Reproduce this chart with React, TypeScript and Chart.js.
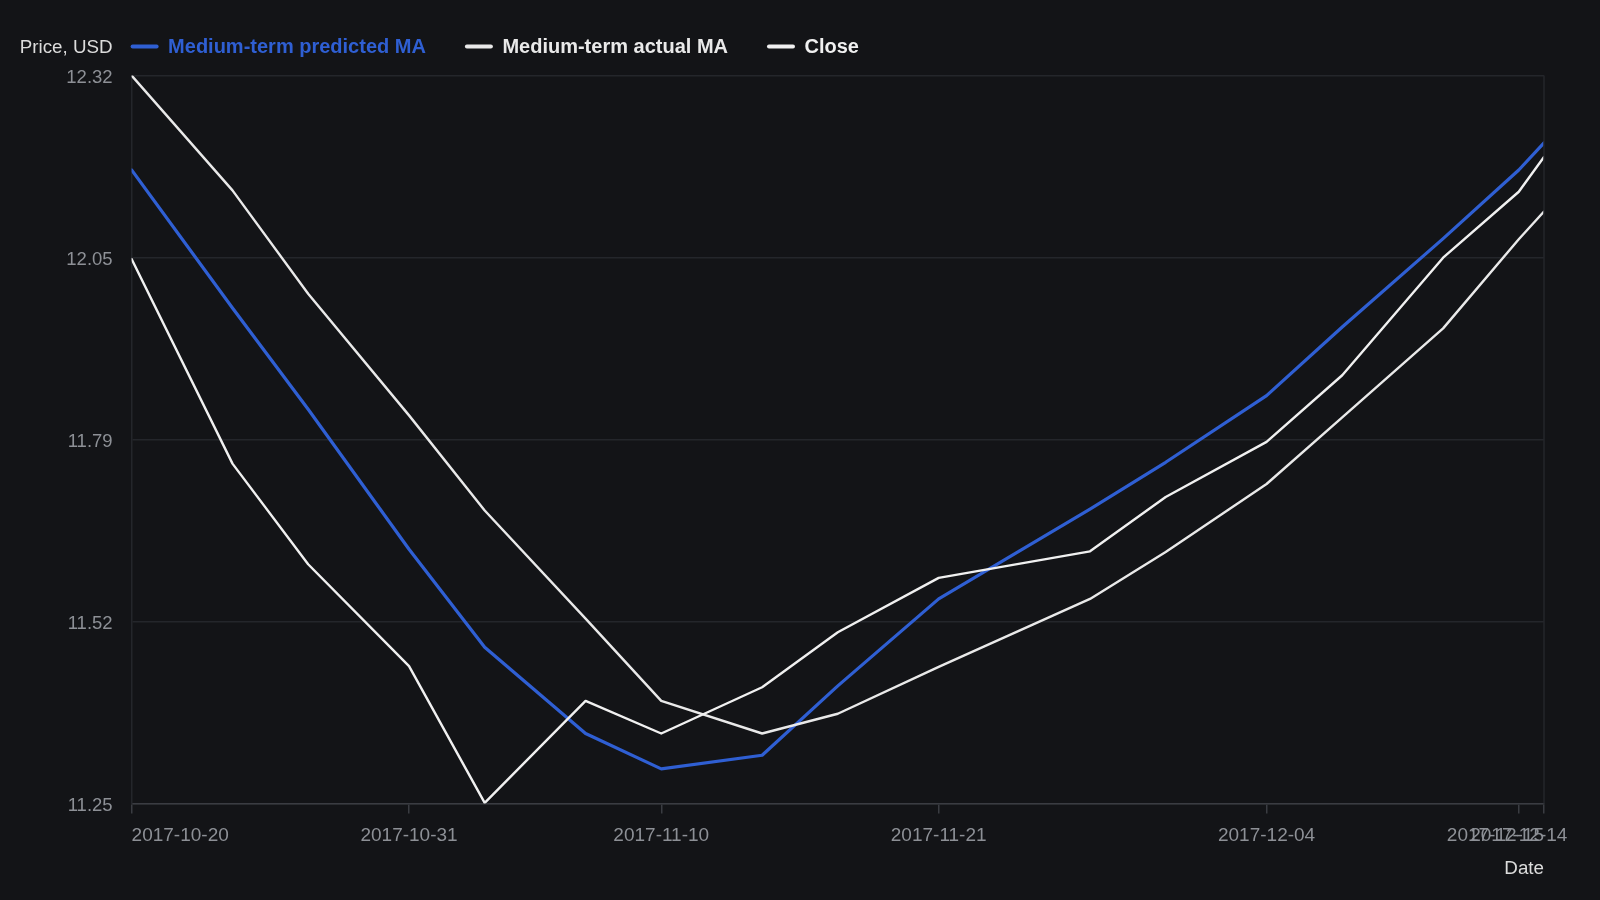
import React, { useEffect, useRef } from "react";
import { Chart, registerables } from "chart.js";

Chart.register(...registerables);

// ---- data ----
const dates = [
  "2017-10-20", "2017-10-24", "2017-10-27", "2017-10-31", "2017-11-03",
  "2017-11-07", "2017-11-10", "2017-11-14", "2017-11-17", "2017-11-21",
  "2017-11-27", "2017-11-30", "2017-12-04", "2017-12-07", "2017-12-11",
  "2017-12-14", "2017-12-15",
];
const predictedMA = [
  12.183, 11.98, 11.831, 11.625, 11.481, 11.354, 11.302, 11.322, 11.424,
  11.552, 11.684, 11.753, 11.851, 11.952, 12.082, 12.183, 12.223,
];
const actualMA = [
  12.322, 12.153, 12.001, 11.822, 11.682, 11.523, 11.402, 11.354, 11.383,
  11.452, 11.552, 11.621, 11.721, 11.819, 11.95, 12.081, 12.122,
];
const closePrice = [
  12.052, 11.751, 11.603, 11.453, 11.252, 11.402, 11.354, 11.422, 11.503,
  11.583, 11.622, 11.702, 11.783, 11.881, 12.054, 12.151, 12.202,
];
const xTickDates = [
  "2017-10-20", "2017-10-31", "2017-11-10", "2017-11-21",
  "2017-12-04", "2017-12-14", "2017-12-15",
];
const yMin = 11.251;
const yMax = 12.322;
const yTickCount = 5;

const seriesLabels = ["Medium-term predicted MA", "Medium-term actual MA", "Close"];
const yTitle = "Price, USD";
const xTitle = "Date";

// ---- styles ----
const BG = "#131417";
const GRID = "#24262b";
const AXIS = "#3a3c42";
const TICK_COLOR = "#8d9096";
const TITLE_COLOR = "#dcdcdc";
const BLUE = "#2f5fd3";
const WHITE1 = "#e9e9e9";
const WHITE2 = "#f0f0f0";
const FONT = '"Liberation Sans", Arial, Helvetica, sans-serif';

const DAY = 86400000;
const dayNum = (s: string) => {
  const [y, m, d] = s.split("-").map(Number);
  return Date.UTC(y, m - 1, d) / DAY;
};
const fmtDay = (v: number) => {
  const dt = new Date(Math.round(v) * DAY);
  const mm = String(dt.getUTCMonth() + 1).padStart(2, "0");
  const dd = String(dt.getUTCDate()).padStart(2, "0");
  return `${dt.getUTCFullYear()}-${mm}-${dd}`;
};

const decorPlugin = {
  id: "decor",
  afterDraw(chart: any) {
    const { ctx, chartArea } = chart;
    const { left, right, top, bottom } = chartArea;
    ctx.save();
    // right border of the plot box
    ctx.strokeStyle = GRID;
    ctx.lineWidth = 1.5;
    ctx.beginPath();
    ctx.moveTo(right, top);
    ctx.lineTo(right, bottom);
    ctx.stroke();

    // y title at top-left, aligned with tick label column
    const ly = 47.5;
    ctx.textBaseline = "middle";
    ctx.textAlign = "right";
    ctx.fillStyle = TITLE_COLOR;
    ctx.font = `18.8px ${FONT}`;
    ctx.fillText(yTitle, left - 19, ly);

    // legend
    ctx.textAlign = "left";
    ctx.font = `bold 20px ${FONT}`;
    let x = left - 1;
    chart.data.datasets.forEach((ds: any) => {
      ctx.strokeStyle = ds.borderColor;
      ctx.lineWidth = 4;
      ctx.lineCap = "round";
      ctx.beginPath();
      ctx.moveTo(x + 2, ly - 1);
      ctx.lineTo(x + 26, ly - 1);
      ctx.stroke();
      const tx = x + 28 + 9.5;
      ctx.fillStyle = ds.borderColor;
      ctx.fillText(ds.label, tx, ly);
      x = tx + ctx.measureText(ds.label).width + 39;
    });
    ctx.restore();
  },
};

export default function App() {
  const ref = useRef<HTMLCanvasElement | null>(null);

  useEffect(() => {
    if (!ref.current) return;
    const toPts = (arr: number[]) => arr.map((v, i) => ({ x: dayNum(dates[i]), y: v }));
    const chart = new Chart(ref.current, {
      type: "line",
      data: {
        datasets: [
          {
            label: seriesLabels[0],
            data: toPts(predictedMA),
            borderColor: BLUE,
            borderWidth: 3.2,
            order: 3,
          },
          {
            label: seriesLabels[1],
            data: toPts(actualMA),
            borderColor: WHITE1,
            borderWidth: 2.4,
            order: 2,
          },
          {
            label: seriesLabels[2],
            data: toPts(closePrice),
            borderColor: WHITE2,
            borderWidth: 2.4,
            order: 1,
          },
        ],
      },
      options: {
        animation: false,
        responsive: true,
        maintainAspectRatio: false,
        layout: { padding: { left: 0, right: 56, top: 75.5, bottom: 0 } },
        elements: {
          point: { radius: 0, hoverRadius: 0 },
          line: { tension: 0, borderJoinStyle: "round", borderCapStyle: "round" },
        },
        plugins: {
          legend: { display: false },
          tooltip: { enabled: false },
        },
        scales: {
          x: {
            type: "linear",
            min: dayNum(dates[0]),
            max: dayNum(dates[dates.length - 1]),
            afterBuildTicks: (s: any) => {
              s.ticks = xTickDates.map((d) => ({ value: dayNum(d) }));
            },
            afterFit: (s: any) => {
              s.height = 96.5;
            },
            ticks: {
              callback: (v: any) => fmtDay(Number(v)),
              color: TICK_COLOR,
              font: { family: FONT, size: 19 },
              align: "inner",
              maxRotation: 0,
              autoSkip: false,
              padding: 11,
            },
            grid: {
              drawOnChartArea: false,
              drawTicks: true,
              tickLength: 10,
              color: AXIS,
              lineWidth: 1.5,
            },
            border: { display: true, color: AXIS, width: 1.5 },
            title: {
              display: true,
              text: xTitle,
              align: "end",
              color: TITLE_COLOR,
              font: { family: FONT, size: 18.8 },
              padding: { top: 0, bottom: 20 },
            },
          },
          y: {
            type: "linear",
            min: yMin,
            max: yMax,
            afterBuildTicks: (s: any) => {
              s.ticks = Array.from({ length: yTickCount }, (_, i) => ({
                value: yMin + ((yMax - yMin) * i) / (yTickCount - 1),
              }));
            },
            afterFit: (s: any) => {
              s.width = 131.6;
            },
            ticks: {
              callback: (v: any) => Number(v).toFixed(2),
              color: TICK_COLOR,
              font: { family: FONT, size: 18.5 },
              padding: 19,
              labelOffset: 2.5,
            },
            grid: { color: GRID, drawTicks: false, lineWidth: 1.5 },
            border: { display: true, color: GRID, width: 1.5 },
          },
        },
      },
      plugins: [decorPlugin],
    });
    return () => chart.destroy();
  }, []);

  return (
    <div
      style={{
        position: "fixed",
        left: 0,
        top: 0,
        width: "1600px",
        height: "900px",
        background: BG,
      }}
    >
      <canvas ref={ref} />
    </div>
  );
}
